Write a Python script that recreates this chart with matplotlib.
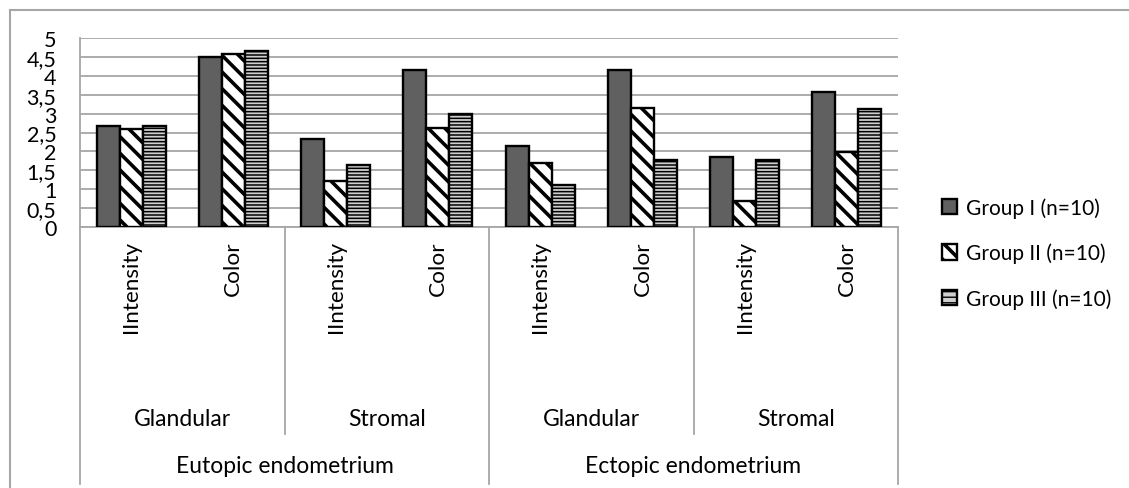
import matplotlib
matplotlib.use("Agg")
import matplotlib.pyplot as plt
import matplotlib.transforms as mtransforms
from matplotlib.lines import Line2D

plt.rcParams['font.family'] = ['Lato', 'DejaVu Sans']
plt.rcParams['hatch.linewidth'] = 2.6

# data
measures = ["IIntensity", "Color"] * 4
tissues = ["Glandular", "Stromal", "Glandular", "Stromal"]
sites = ["Eutopic endometrium", "Ectopic endometrium"]
series_names = ["Group I (n=10)", "Group II (n=10)", "Group III (n=10)"]
group1 = [2.66, 4.49, 2.32, 4.16, 2.15, 4.15, 1.86, 3.57]
group2 = [2.58, 4.58, 1.23, 2.61, 1.69, 3.14, 0.70, 1.99]
group3 = [2.66, 4.66, 1.65, 2.99, 1.12, 1.78, 1.78, 3.12]
yticks = [0, 0.5, 1, 1.5, 2, 2.5, 3, 3.5, 4, 4.5, 5]

W, H = 1129, 489
fig = plt.figure(figsize=(W / 100, H / 100), dpi=100)
ax = fig.add_axes([80 / W, 1 - 228 / H, (898 - 80) / W, (228 - 39) / H])

grey = "#a6a6a6"
bw = 0.225
x = list(range(len(measures)))
b1 = ax.bar([i - bw for i in x], group1, bw, color="#606060", edgecolor="black",
            linewidth=1.7, zorder=3, label=series_names[0])
b2 = ax.bar(x, group2, bw, color="white", edgecolor="black", hatch="\\\\",
            linewidth=1.7, zorder=3, label=series_names[1])
b3 = ax.bar([i + bw for i in x], group3, bw, color="#cfcfcf", edgecolor="black",
            hatch="-----", linewidth=1.7, zorder=3, label=series_names[2])
for p in b3:
    if hasattr(p, "set_hatch_linewidth"):
        p.set_hatch_linewidth(1.1)

ax.set_xlim(-0.5, 7.5)
ax.set_ylim(0, 5)
ax.set_yticks(yticks)
ax.set_yticklabels([("%g" % v).replace(".", ",") for v in yticks], fontsize=15.5)
ax.tick_params(axis="y", length=0, pad=17)
ax.set_xticks([])
ax.yaxis.grid(True, color=grey, linewidth=1.3, zorder=0)
for s in ["top", "right"]:
    ax.spines[s].set_visible(False)
for s in ["left", "bottom"]:
    ax.spines[s].set_color(grey)
    ax.spines[s].set_linewidth(1.3)

# multi-level category axis
tr = mtransforms.blended_transform_factory(ax.transData, fig.transFigure)
def fy(py):
    return 1 - py / H

for i, m in enumerate(measures):
    ax.text(i, fy(241), m, rotation=90, ha="center", va="top", fontsize=16.2,
            transform=tr, clip_on=False)
for k, t in enumerate(tissues):
    ax.text(2 * k + 0.5, fy(420), t, ha="center", va="center", fontsize=16.5, transform=tr)
for k, s in enumerate(sites):
    ax.text(4 * k + 1.5, fy(467), s, ha="center", va="center", fontsize=16.5, transform=tr)
for xs in [-0.5, 3.5, 7.5]:
    fig.add_artist(Line2D([xs, xs], [fy(228), fy(485)], color=grey, lw=1.3, transform=tr))
for xs in [1.5, 5.5]:
    fig.add_artist(Line2D([xs, xs], [fy(228), fy(435)], color=grey, lw=1.3, transform=tr))

# outer frame
fig.add_artist(Line2D([10 / W, 10 / W], [fy(11), 0], color=grey, lw=1.5))
fig.add_artist(Line2D([10 / W, 1], [fy(11), fy(11)], color=grey, lw=1.5))

leg = fig.legend([b1, b2, b3], series_names, loc="center left",
                 bbox_to_anchor=(923 / W, fy(254)), frameon=False, fontsize=15,
                 handlelength=0.75, handleheight=0.75, labelspacing=1.2, handletextpad=0.4)
lp = leg.get_patches()
if hasattr(lp[2], "set_hatch_linewidth"):
    lp[2].set_hatch_linewidth(1.0)
    lp[2].set_hatch("---")

fig.savefig("out.png", dpi=100)
